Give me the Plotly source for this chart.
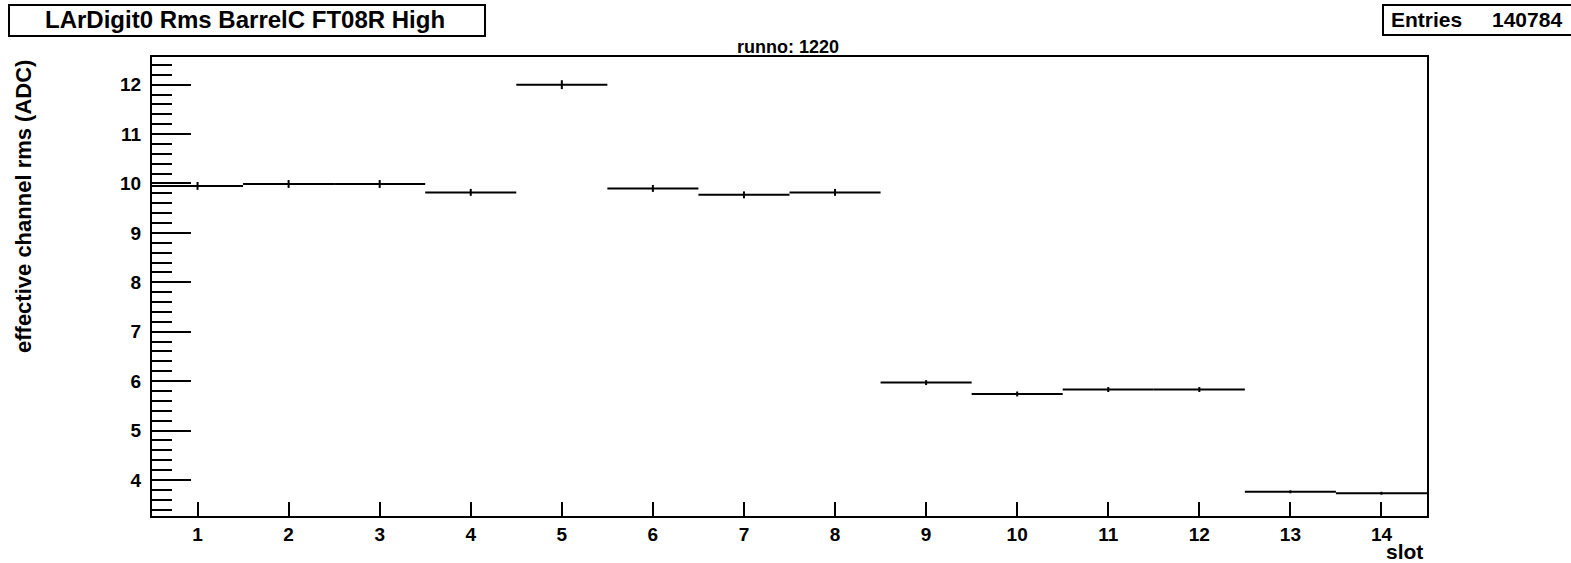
import plotly.graph_objects as go

slots = list(range(1, 15))
rms = [9.95, 9.99, 9.99, 9.82, 12.0, 9.90, 9.77, 9.82, 5.97, 5.74, 5.83, 5.83, 3.76, 3.73]
rms_err = [0.08, 0.08, 0.08, 0.07, 0.09, 0.07, 0.07, 0.07, 0.05, 0.05, 0.05, 0.05, 0.03, 0.03]
half_width = [0.5] * len(slots)

title_text = "LArDigit0 Rms BarrelC FT08R High"
entries = 140784
runno = 1220
FONT = "Liberation Sans, Arial, Helvetica, sans-serif"

W, H = 1571, 563
pl, pr, pt, pb = 152, 1427, 57, 516

def px(x):
    return (x - pl) / (pr - pl)
def py(y):
    return (pb - y) / (pb - pt)

fig = go.Figure()
fig.add_trace(go.Scatter(
    x=slots, y=rms, mode="markers",
    marker=dict(size=1, color="black"),
    error_x=dict(type="data", array=half_width, width=0, thickness=2, color="black"),
    error_y=dict(type="data", array=rms_err, width=0, thickness=2, color="black"),
    showlegend=False, hoverinfo="x+y",
))

fig.update_layout(
    width=W, height=H,
    margin=dict(l=pl, r=W - pr, t=pt, b=H - pb, pad=0),
    paper_bgcolor="white", plot_bgcolor="white",
    font=dict(family=FONT, color="black"),
    xaxis=dict(
        range=[0.5, 14.5], tickmode="array", tickvals=slots,
        ticktext=[str(s) for s in slots],
        ticks="inside", ticklen=14, tickwidth=2, tickcolor="black",
        showline=True, linewidth=2, linecolor="black", mirror=True,
        showgrid=False, zeroline=False,
        tickfont=dict(size=19, family=FONT, weight="bold"),
    ),
    yaxis=dict(
        range=[3.27, 12.56], tickmode="array", tickvals=list(range(4, 13)),
        ticks="inside", ticklen=39, tickwidth=2, tickcolor="black",
        minor=dict(dtick=0.2, tick0=0, ticks="inside", ticklen=20, tickwidth=2, tickcolor="black", showgrid=False),
        showline=True, linewidth=2, linecolor="black", mirror=True,
        showgrid=False, zeroline=False,
        tickfont=dict(size=19, family=FONT, weight="bold"),
        ticklabelstandoff=5,
    ),
)

fig.add_shape(type="rect", xref="paper", yref="paper",
              x0=px(9), x1=px(485), y0=py(36), y1=py(5),
              line=dict(color="black", width=2), fillcolor="white")
fig.add_shape(type="rect", xref="paper", yref="paper",
              x0=px(1383), x1=px(1580), y0=py(35), y1=py(5),
              line=dict(color="black", width=2), fillcolor="white")

fig.add_annotation(text=title_text, xref="paper", yref="paper",
                   x=px(245), y=py(20), showarrow=False,
                   font=dict(size=24, family=FONT, weight="bold"),
                   xanchor="center", yanchor="middle")
fig.add_annotation(text="Entries", xref="paper", yref="paper",
                   x=px(1389), y=py(20), showarrow=False,
                   font=dict(size=21, family=FONT, weight="bold"),
                   xanchor="left", yanchor="middle")
fig.add_annotation(text=str(entries), xref="paper", yref="paper",
                   x=px(1564), y=py(20), showarrow=False,
                   font=dict(size=21, family=FONT, weight="bold"),
                   xanchor="right", yanchor="middle")
fig.add_annotation(text=f"runno: {runno}", xref="paper", yref="paper",
                   x=px(788), y=py(47), showarrow=False,
                   font=dict(size=18, family=FONT, weight="bold"),
                   xanchor="center", yanchor="middle")
fig.add_annotation(text="effective channel rms (ADC)", xref="paper", yref="paper",
                   x=px(24), y=py(207), showarrow=False, textangle=-90,
                   font=dict(size=22, family=FONT, weight="bold"),
                   xanchor="center", yanchor="middle")
fig.add_annotation(text="slot", xref="paper", yref="paper",
                   x=px(1425), y=py(551), showarrow=False,
                   font=dict(size=21, family=FONT, weight="bold"),
                   xanchor="right", yanchor="middle")

fig.write_html("out.html", config={"displayModeBar": False},
               post_script="document.body.style.margin='0';")
